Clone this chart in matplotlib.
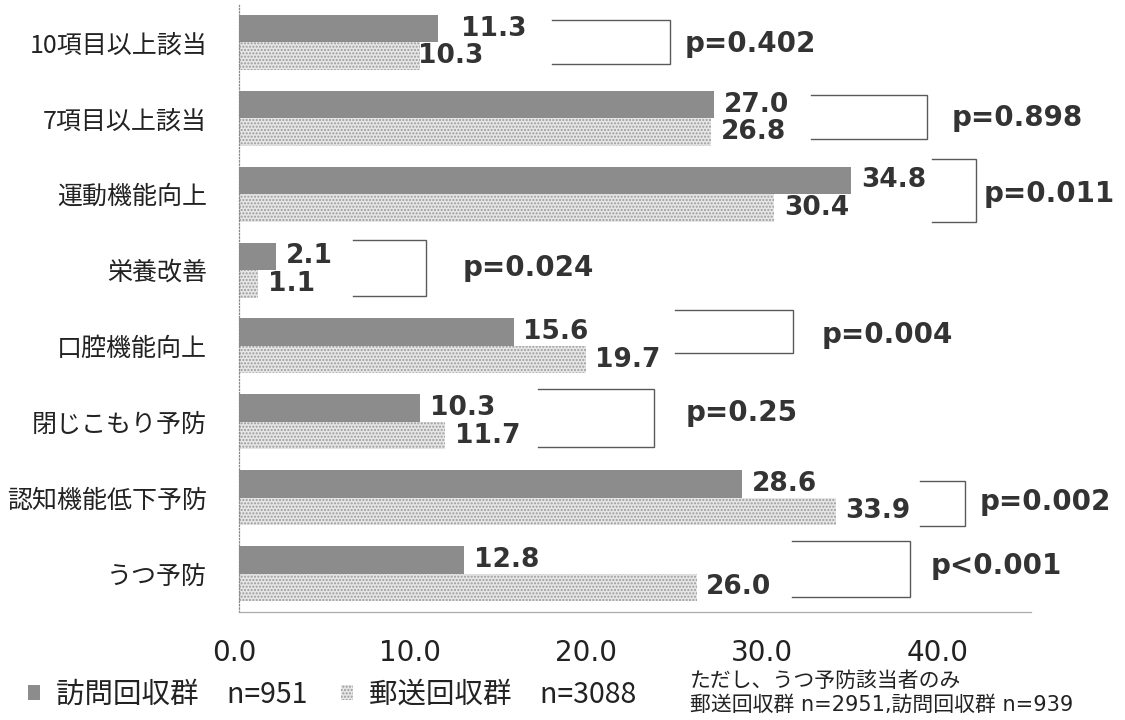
import matplotlib.pyplot as plt
from matplotlib.patches import Patch
from matplotlib.transforms import ScaledTranslation

# データ
categories = ['10項目以上該当', '7項目以上該当', '運動機能向上', '栄養改善',
              '口腔機能向上', '閉じこもり予防', '認知機能低下予防', 'うつ予防']
houmon = [11.3, 27.0, 34.8, 2.1, 15.6, 10.3, 28.6, 12.8]   # 訪問回収群
yuusou = [10.3, 26.8, 30.4, 1.1, 19.7, 11.7, 33.9, 26.0]   # 郵送回収群
p_labels = ['p=0.402', 'p=0.898', 'p=0.011', 'p=0.024',
            'p=0.004', 'p=0.25', 'p=0.002', 'p<0.001']
xticks = [0, 10, 20, 30, 40]

# 括弧と p値の配置 (x はデータ単位, y は行中心からのずれ)
br_left = [17.8, 32.5, 39.4, 6.5, 24.8, 17.0, 38.7, 31.4]
br_right = [24.5, 39.1, 41.9, 10.6, 31.5, 23.6, 41.25, 38.1]
br_top = [-0.30, -0.31, -0.47, -0.40, -0.47, -0.43, -0.22, -0.43]
br_bot = [0.28, 0.27, 0.36, 0.34, 0.09, 0.335, 0.375, 0.31]
p_x = [25.3, 40.5, 42.3, 12.7, 33.1, 25.4, 42.1, 39.3]
p_dy = [0.02, 0.0, 0.0, -0.03, -0.15, -0.12, 0.06, -0.10]
# 数値ラベルのずらし (points)
shift_h = [17, 7, 7, 7, 7, 7, 7, 7]
shift_y = [-1.5, 7, 7, 7, 7, 7, 7, 7]

JP = ['Noto Sans CJK JP', 'DejaVu Sans']
MIX = ['DejaVu Sans', 'Noto Sans CJK JP']
NUM = ['DejaVu Sans']
TXT = '#222222'

fig = plt.figure(figsize=(11.25, 7.2), dpi=100)
ax = fig.add_axes([239 / 1125, 1 - 611.5 / 720, (1031 - 239) / 1125, (611.5 - 4.5) / 720])

y = list(range(len(categories)))
h = 0.362
y_h = [i - h / 2 for i in y]
y_y = [i + h / 2 for i in y]

ax.barh(y_h, houmon, height=h, color='#8c8c8c', linewidth=0)
ax.barh(y_y, yuusou, height=h, color='#e6e6e6', hatch='.....',
        edgecolor='#9a9a9a', linewidth=0)

for i in y:
    ax.annotate(f'{houmon[i]:.1f}', (houmon[i], y_h[i]), xytext=(shift_h[i], 0),
                textcoords='offset points', ha='left', va='center',
                fontsize=19, fontweight='bold', family=NUM, color='#333333')
    ax.annotate(f'{yuusou[i]:.1f}', (yuusou[i], y_y[i]), xytext=(shift_y[i], 0),
                textcoords='offset points', ha='left', va='center',
                fontsize=19, fontweight='bold', family=NUM, color='#333333')
    # 括弧
    ax.plot([br_left[i], br_right[i], br_right[i], br_left[i]],
            [i + br_top[i], i + br_top[i], i + br_bot[i], i + br_bot[i]],
            color='#5a5a5a', lw=1.0, solid_joinstyle='miter')
    ax.text(p_x[i], i + p_dy[i], p_labels[i], ha='left', va='center',
            fontsize=20, fontweight='bold', family=NUM, color='#333333')

ax.set_xlim(0, 45)
ax.set_ylim(len(categories) - 0.5, -0.5)

ax.set_xticks(xticks)
ax.set_xticklabels([f'{v:.1f}' for v in xticks], family=NUM, fontsize=20, color=TXT)
ax.set_yticks(y)
ax.set_yticklabels(categories, family=JP, fontsize=18, color=TXT)
ax.tick_params(axis='x', length=0, pad=19.5)
ax.tick_params(axis='y', length=0, pad=23)
shift = ScaledTranslation(-5 / 100, 0, fig.dpi_scale_trans)
for lbl in ax.get_xticklabels():
    lbl.set_transform(lbl.get_transform() + shift)

for s in ['top', 'right']:
    ax.spines[s].set_visible(False)
ax.spines['left'].set_linestyle(':')
ax.spines['left'].set_color('#888888')
ax.spines['left'].set_linewidth(0.9)
ax.spines['bottom'].set_color('#aaaaaa')
ax.spines['bottom'].set_linewidth(0.9)

# 凡例
handles = [Patch(facecolor='#8c8c8c', linewidth=0),
           Patch(facecolor='#e6e6e6', hatch='.....', edgecolor='#9a9a9a', linewidth=0)]
fig.legend(handles, ['訪問回収群\u3000n=951', '郵送回収群\u3000n=3088'],
           loc='center left', bbox_to_anchor=(28 / 1125, 1 - 695 / 720), ncol=2,
           frameon=False, borderaxespad=0, borderpad=0,
           handlelength=0.42, handleheight=0.42, handletextpad=0.55,
           columnspacing=1.2, prop={'family': JP, 'size': 20.5},
           labelcolor=TXT)

fig.text(690 / 1125, 1 - 681 / 720, 'ただし、うつ予防該当者のみ',
         family=JP, fontsize=15, va='center', ha='left', color=TXT)
fig.text(690 / 1125, 1 - 705 / 720, '郵送回収群 n=2951,訪問回収群 n=939',
         family=MIX, fontsize=15, va='center', ha='left', color=TXT)

fig.savefig('out.png', dpi=100)
